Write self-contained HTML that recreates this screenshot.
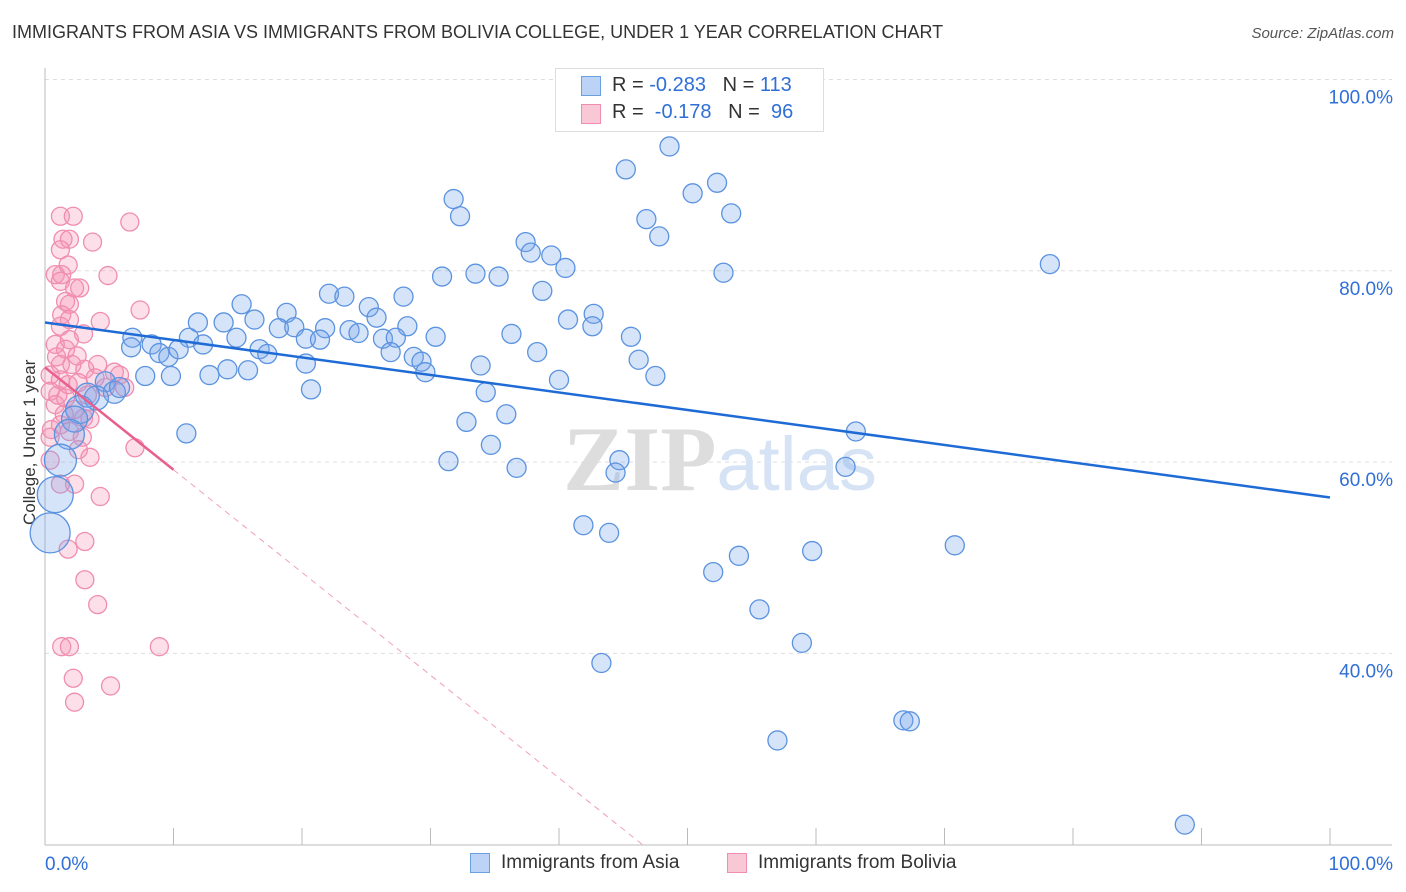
<!DOCTYPE html>
<html><head><meta charset="utf-8">
<style>
body{margin:0;background:#fff;font-family:"Liberation Sans",sans-serif;}
#wrap{position:relative;width:1406px;height:892px;overflow:hidden}
.t{position:absolute;white-space:nowrap}
</style></head><body>
<div id="wrap">
<div class="t" style="left:12px;top:22px;font-size:18px;color:#333">IMMIGRANTS FROM ASIA VS IMMIGRANTS FROM BOLIVIA COLLEGE, UNDER 1 YEAR CORRELATION CHART</div>
<div class="t" style="right:12px;top:25px;font-size:15px;color:#555;font-style:italic">Source: ZipAtlas.com</div>
<div class="t" style="left:-40px;top:445px;font-size:17px;color:#333;transform:rotate(-90deg);transform-origin:center;width:140px;text-align:center">College, Under 1 year</div>
<svg id="svg" width="1406" height="892" style="position:absolute;left:0;top:0"></svg>
<div style="position:absolute;left:555px;top:68px;width:267px;height:62px;border:1px solid #ddd;background:#fff">
 <div style="position:absolute;left:25px;top:7px;width:18px;height:18px;background:#bcd3f5;border:1px solid #6a9fe0"></div>
 <div class="t" style="left:56px;top:5px;font-size:20px;color:#333">R = <span style="color:#2f6fd6">-0.283</span>&nbsp;&nbsp;&nbsp;N = <span style="color:#2f6fd6">113</span></div>
 <div style="position:absolute;left:25px;top:35px;width:18px;height:18px;background:#f9c8d7;border:1px solid #f08db0"></div>
 <div class="t" style="left:56px;top:32px;font-size:20px;color:#333">R = &nbsp;<span style="color:#2f6fd6">-0.178</span>&nbsp;&nbsp;&nbsp;N = &nbsp;<span style="color:#2f6fd6">96</span></div>
</div>
<div>
 <div style="position:absolute;left:470px;top:853px;width:18px;height:18px;background:#bcd3f5;border:1px solid #6a9fe0"></div>
 <div class="t" style="left:501px;top:852px;font-size:19px;color:#333">Immigrants from Asia</div>
 <div style="position:absolute;left:727px;top:853px;width:18px;height:18px;background:#f9c8d7;border:1px solid #f08db0"></div>
 <div class="t" style="left:758px;top:852px;font-size:19px;color:#333">Immigrants from Bolivia</div>
</div>
</div>
<script>
const blueX=[48.6,45.2,52.3,50.4,31.8,32.3,53.4,46.8,47.8,37.4,37.8,39.4,40.5,78.2,52.8,30.9,33.5,35.3,38.7,22.1,23.3,27.9,15.3,18.8,25.2,25.8,40.7,42.7,42.6,36.3,45.6,11.9,13.9,16.3,18.2,19.4,21.8,23.7,24.4,28.2,30.4,26.3,27.3,6.8,8.3,6.7,11.2,12.3,14.9,16.7,17.3,20.3,21.4,8.9,9.6,10.4,26.9,28.7,29.3,29.6,38.3,46.2,47.5,33.9,20.3,7.8,9.8,12.8,14.2,15.8,40.0,34.3,20.7,35.9,32.8,34.7,31.4,36.7,44.7,44.4,62.3,63.1,11.0,41.9,43.9,54.0,59.7,70.8,52.0,55.6,58.9,43.3,66.8,67.3,57.0,88.7,4.7,5.4,5.8,4.0,3.3,2.7,2.3,1.9,1.2,0.8,0.4];
const blueY=[93.0,90.6,89.2,88.1,87.5,85.7,86.0,85.4,83.6,83.0,81.9,81.6,80.3,80.7,79.8,79.4,79.7,79.4,77.9,77.6,77.3,77.3,76.5,75.6,76.2,75.1,74.9,75.5,74.2,73.4,73.1,74.6,74.6,74.9,74.0,74.1,74.0,73.8,73.5,74.2,73.1,72.9,73.0,73.0,72.3,72.0,73.0,72.3,73.0,71.8,71.3,72.9,72.8,71.4,71.0,71.8,71.5,71.0,70.5,69.4,71.5,70.7,69.0,70.1,70.3,69.0,69.0,69.1,69.7,69.6,68.6,67.3,67.6,65.0,64.2,61.8,60.1,59.4,60.2,58.9,59.5,63.2,63.0,53.4,52.6,50.2,50.7,51.3,48.5,44.6,41.1,39.0,33.0,32.9,30.9,22.1,68.4,67.3,67.8,66.7,67.0,65.5,64.5,62.9,60.2,56.6,52.6];
const blueBig=[10,11,10,12,12,14,13,15,16,18,20];
const pinkX=[1.2,2.2,6.6,1.4,1.9,3.7,1.2,1.8,0.8,1.3,4.9,1.2,2.3,2.7,1.6,1.9,7.4,1.3,1.9,4.3,1.2,3.0,1.9,0.8,1.6,0.9,2.5,1.2,2.1,3.1,4.1,5.4,5.8,0.4,1.2,1.8,2.6,6.2,0.4,1.6,0.8,2.3,3.0,3.5,1.2,1.9,0.4,2.9,2.6,3.5,0.4,7.0,1.2,2.3,4.3,3.1,1.8,3.1,4.1,1.3,1.9,8.9,2.2,5.1,2.3,4.7,1.0,1.5,3.9,0.5,3.3];
const pinkY=[85.7,85.7,85.1,83.3,83.3,83.0,82.2,80.6,79.6,79.6,79.5,78.9,78.2,78.2,76.8,76.5,75.9,75.4,74.9,74.7,74.2,73.4,72.8,72.3,71.8,71.0,71.1,70.2,70.2,69.7,70.2,69.4,69.1,69.1,68.6,68.1,68.3,67.8,67.4,66.7,66.0,65.5,64.6,64.5,63.9,63.2,62.6,62.6,61.3,60.5,60.2,61.5,57.7,57.7,56.4,51.7,50.9,47.7,45.1,40.7,40.7,40.7,37.4,36.6,34.9,67.8,67.0,65.0,68.8,63.4,67.0];
const blueTrend=[[0,74.6],[100,56.3]];
const pinkSolid=[[0,69.9],[10,59.2]];
const pinkDash=[[10,59.2],[46.5,20]];
const yTicks=[100,80,60,40];
const xTicks=[0,10,20,30,40,50,60,70,80,90,100];
const svg=document.getElementById('svg');
const NS='http://www.w3.org/2000/svg';
const X=v=>45+v*12.85, Y=v=>1036-v*9.565;
function mk(tag,attrs){const e=document.createElementNS(NS,tag);for(const k in attrs)e.setAttribute(k,attrs[k]);svg.appendChild(e);return e;}
yTicks.forEach(t=>{const l=mk('line',{x1:45,x2:1392,y1:Y(t),y2:Y(t),stroke:'#ddd','stroke-dasharray':'4,4'});


const tx=mk('text',{x:1393,y:Y(t)+24,'text-anchor':'end','font-size':19,fill:'#2f6fd6','font-family':'Liberation Sans, sans-serif'});tx.textContent=t.toFixed(1)+'%';

});
const ax=mk('line',{x1:45,x2:1392,y1:845,y2:845,stroke:'#bbb'});


const ay=mk('line',{x1:45,x2:45,y1:68,y2:845,stroke:'#bbb'});


xTicks.forEach(t=>{const l=mk('line',{x1:X(t),x2:X(t),y1:828,y2:845,stroke:'#bbb'});

});
[[0,'start'],[100,'end']].forEach(([t,a])=>{const tx=mk('text',{x:t==0?45:1393,y:870,'text-anchor':a,'font-size':19,fill:'#2f6fd6','font-family':'Liberation Sans, sans-serif'});tx.textContent=t.toFixed(1)+'%';

});
const wm=mk('text',{x:720,y:490,'text-anchor':'middle','font-size':92,'font-family':'Liberation Serif, serif',fill:'#ddd'});
wm.innerHTML='<tspan font-weight="bold">ZIP</tspan><tspan fill="#d5e3f5" font-family="Liberation Sans, sans-serif" font-size="76">atlas</tspan>';


pinkX.forEach((v,i)=>{const c=mk('circle',{cx:X(v),cy:Y(pinkY[i]),r:9,fill:'rgba(244,150,180,0.3)',stroke:'#f08db0','stroke-width':1.3});

});
const nb=blueX.length-blueBig.length;
blueX.forEach((v,i)=>{const r=i>=nb?blueBig[i-nb]:9.5;const c=mk('circle',{cx:X(v),cy:Y(blueY[i]),r:r,fill:'rgba(120,165,235,0.3)',stroke:'#5b93e0','stroke-width':1.3});

});
const bl=mk('line',{x1:X(blueTrend[0][0]),y1:Y(blueTrend[0][1]),x2:X(blueTrend[1][0]),y2:Y(blueTrend[1][1]),stroke:'#1f6bd6','stroke-width':2.5});


const ps=mk('line',{x1:X(pinkSolid[0][0]),y1:Y(pinkSolid[0][1]),x2:X(pinkSolid[1][0]),y2:Y(pinkSolid[1][1]),stroke:'#e8608e','stroke-width':2.5});


const pd=mk('line',{x1:X(pinkDash[0][0]),y1:Y(pinkDash[0][1]),x2:X(pinkDash[1][0]),y2:Y(pinkDash[1][1]),stroke:'#f0a0b8','stroke-width':1,'stroke-dasharray':'6,5'});


</script>
</body></html>
